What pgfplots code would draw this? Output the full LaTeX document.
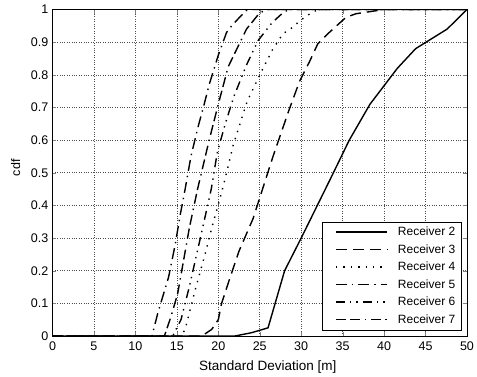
\documentclass[border=0pt]{standalone}
\usepackage{pgfplots}
\pgfplotsset{compat=1.18}
\usepackage{fontspec}
\setmainfont{Liberation Sans}
\begin{document}
\fontsize{12}{14}\selectfont
\begin{tikzpicture}
\useasboundingbox (-52.5pt,-40pt) rectangle (424.5pt,336pt);
\begin{axis}[
  scale only axis, width=414.5pt, height=326.5pt,
  xmin=0, xmax=50, ymin=0, ymax=1,
  xtick={0,5,...,50}, ytick={0,0.1,...,1.0},
  yticklabels={0,0.1,0.2,0.3,0.4,0.5,0.6,0.7,0.8,0.9,1},
  /pgf/number format/assume math mode=true,
  tick label style={font=\fontsize{12.5}{14}\selectfont},
  tick align=inside, tick pos=both,
  major tick length=4pt,
  grid=major, major grid style={dotted, black!70, line width=0.6pt},
  axis line style={black, line width=0.8pt},
  xlabel={Standard Deviation [m]}, ylabel={cdf},
  xlabel style={at={(axis description cs:0.5,0)}, anchor=north, yshift=-21pt, xshift=8pt, font=\fontsize{13.5}{15}\selectfont},
  ylabel style={at={(axis description cs:0,0.5)}, anchor=south, yshift=28pt, xshift=5pt, font=\fontsize{12.5}{14}\selectfont},
  xticklabel style={yshift=-2pt},
  cycle list={{black,solid}},
  every axis plot/.append style={line width=1.4pt, black, no markers},
  legend cell align=left,
  legend style={at={(0.987,0.018)}, anchor=south east, draw=black, line width=0.6pt,
    inner xsep=4pt, inner ysep=3pt, row sep=3pt, font=\fontsize{12}{14}\selectfont},
  legend image code/.code={\draw[#1] plot coordinates {(0cm,0cm) (1.8cm,0cm)}; \path (-9pt,0pt) (1.8cm+8pt,0pt);},
]
% Receiver 2 (solid)
\addplot[solid] coordinates {(0,0) (22,0) (24,0.01) (26,0.025) (28,0.2) (30,0.3) (33.5,0.48) (35.8,0.6) (38.3,0.71) (41.6,0.82) (43.8,0.88) (47.6,0.94) (50,1)};
\addlegendentry{Receiver 2}
% Receiver 3 (dashed)
\addplot[dash pattern=on 11pt off 6pt] coordinates {(0,0) (18,0) (19.2,0.02) (20,0.05) (20.4,0.1) (21.3,0.17) (22.5,0.26) (24.2,0.36) (26.6,0.55) (28.5,0.69) (29.8,0.78) (31,0.84) (32,0.895) (33.4,0.93) (35.4,0.976) (36.6,0.987) (40,1) (50,1)};
\addlegendentry{Receiver 3}
% Receiver 4 (dotted)
\addplot[dash pattern=on 1.4pt off 6pt] coordinates {(0,0) (15.5,0) (16,0.02) (16.6,0.08) (17.2,0.14) (18.4,0.25) (19.2,0.33) (20.4,0.44) (21,0.5) (21.8,0.585) (23.5,0.72) (25.4,0.82) (26.5,0.875) (27.8,0.926) (28.7,0.94) (29.6,0.96) (30.6,0.98) (32,1) (50,1)};
\addlegendentry{Receiver 4}
% Receiver 5 (dash dot)
\addplot[dash pattern=on 11pt off 5pt on 1.4pt off 5pt] coordinates {(0,0) (12,0) (12.7,0.07) (14,0.18) (14.8,0.28) (15.4,0.37) (16,0.45) (16.7,0.55) (17.5,0.635) (18.3,0.71) (18.9,0.77) (20,0.86) (21,0.93) (21.8,0.956) (23.5,1) (50,1)};
\addlegendentry{Receiver 5}
% Receiver 6 (dash dot dot)
\addplot[dash pattern=on 9pt off 5pt on 1.4pt off 5pt on 1.4pt off 5pt] coordinates {(0,0) (14.5,0) (15.5,0.05) (16.5,0.15) (18.1,0.33) (19.15,0.45) (19.9,0.565) (20.9,0.655) (21.9,0.735) (23.4,0.83) (24.8,0.905) (26.5,0.96) (27.8,0.99) (28.5,1) (50,1)};
\addlegendentry{Receiver 6}
% Receiver 7 (dash dash dot)
\addplot[dash pattern=on 10pt off 4pt on 10pt off 5pt on 1.4pt off 5pt] coordinates {(0,0) (13.5,0) (14.3,0.06) (15.1,0.13) (16.5,0.33) (17.5,0.45) (18.9,0.6) (20,0.71) (21.2,0.825) (23.4,0.94) (25,0.99) (26,1) (50,1)};
\addlegendentry{Receiver 7}
\end{axis}
\end{tikzpicture}
\end{document}
